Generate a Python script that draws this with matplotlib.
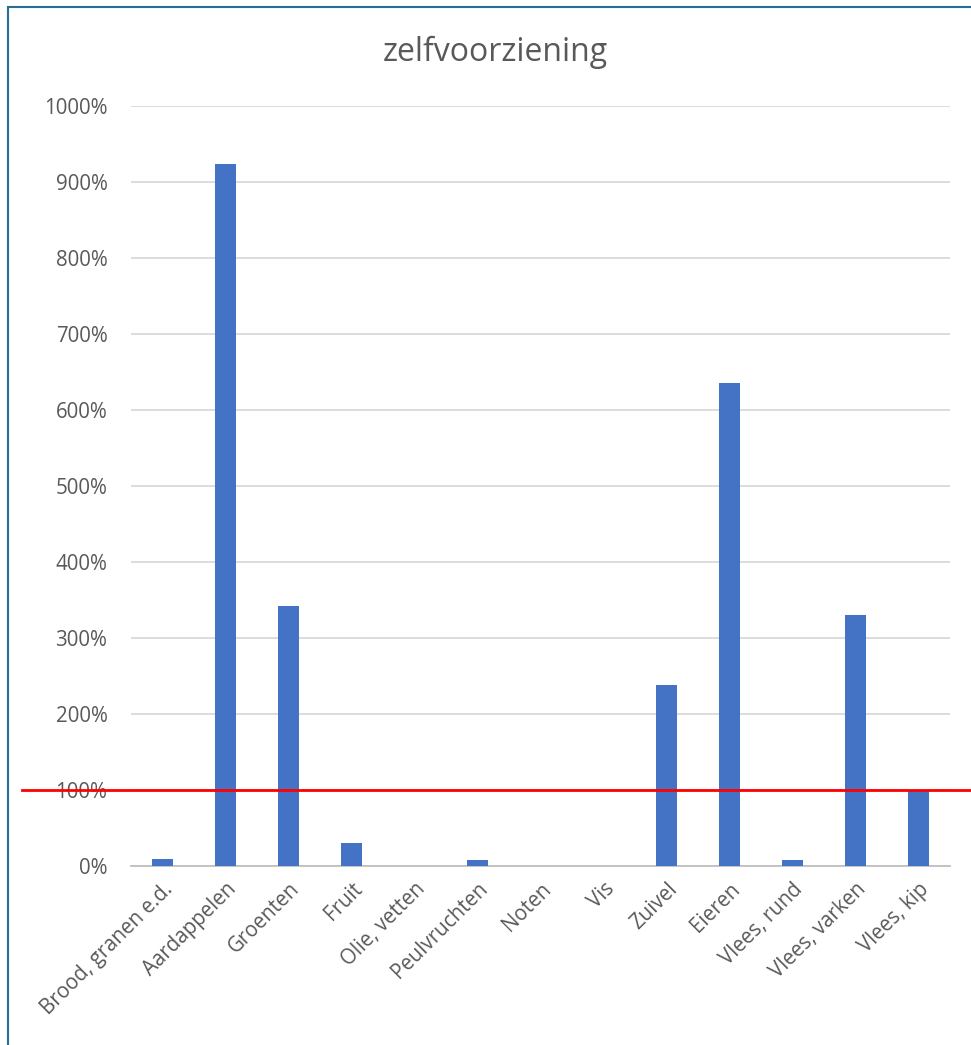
import matplotlib
matplotlib.use("Agg")
import matplotlib.pyplot as plt
import matplotlib.transforms as mtransforms
from matplotlib.patches import Rectangle

categories = ["Brood, granen e.d.", "Aardappelen", "Groenten", "Fruit", "Olie, vetten",
              "Peulvruchten", "Noten", "Vis", "Zuivel", "Eieren", "Vlees, rund",
              "Vlees, varken", "Vlees, kip"]
values = [9, 924, 342, 30, 0, 8, 0, 0, 238, 635, 8, 330, 100]
yticks = [0, 100, 200, 300, 400, 500, 600, 700, 800, 900, 1000]
ytick_labels = [f"{v}%" for v in yticks]
threshold = 100
title = "zelfvoorziening"

plt.rcParams['font.family'] = ['Open Sans', 'DejaVu Sans']
grey = "#595959"

fig = plt.figure(figsize=(9.71, 10.45), dpi=100)
ax = fig.add_axes([131/971, 1-866/1045, (950-131)/971, (866-106)/1045])

x = list(range(len(categories)))
ax.bar(x, values, width=0.32, color="#4472c4", zorder=3)
ax.set_xlim(-0.5, len(categories)-0.5)
ax.set_ylim(0, 1000)
ax.set_yticks(yticks)
ax.set_yticklabels(ytick_labels, color=grey, fontsize=14.8)
ax.set_xticks(x)
ax.set_xticklabels(categories, rotation=45, ha='right', rotation_mode='anchor',
                   color=grey, fontsize=14.8)
ax.tick_params(axis='both', length=0)
ax.tick_params(axis='y', pad=17)
ax.tick_params(axis='x', pad=9)
ax.grid(axis='y', color="#d9d9d9", lw=1.3, zorder=0)
for s in ['top', 'right', 'left']:
    ax.spines[s].set_visible(False)
ax.spines['bottom'].set_color("#bfbfbf")
ax.spines['bottom'].set_linewidth(1.3)

fig.text(495/971, 1-52/1045, title, ha='center', va='center', fontsize=23, color=grey)

trans = mtransforms.blended_transform_factory(fig.transFigure, ax.transData)
ax.plot([22/971, 1.0], [threshold, threshold], transform=trans, color="#ff0000",
        lw=2, clip_on=False, zorder=5)

fig.patches.append(Rectangle((8/971, -0.05), 1.1, 1-7/1045+0.05, transform=fig.transFigure,
                             fill=False, edgecolor="#2a6e96", lw=1.5, zorder=10))

fig.savefig("out.png", dpi=100)
